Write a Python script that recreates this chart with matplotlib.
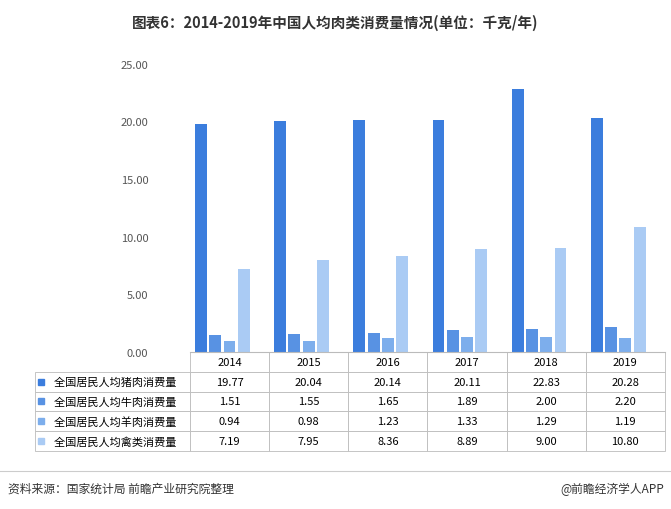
import matplotlib
matplotlib.use("Agg")
import matplotlib.pyplot as plt
import numpy as np

plt.rcParams['font.family'] = ['Noto Sans CJK SC', 'DejaVu Sans']

years = ['2014', '2015', '2016', '2017', '2018', '2019']
series = ['全国居民人均猪肉消费量', '全国居民人均牛肉消费量', '全国居民人均羊肉消费量', '全国居民人均禽类消费量']
pork = [19.77, 20.04, 20.14, 20.11, 22.83, 20.28]
beef = [1.51, 1.55, 1.65, 1.89, 2.00, 2.20]
mutton = [0.94, 0.98, 1.23, 1.33, 1.29, 1.19]
poultry = [7.19, 7.95, 8.36, 8.89, 9.00, 10.80]
colors = ['#3b7ddd', '#5892e3', '#7daeec', '#aacbf4']

fig = plt.figure(figsize=(6.71, 5.10), dpi=100)
ax = fig.add_axes([0.283, 0.308, 0.708, 0.565])
x = np.arange(len(years))
offs = [-0.36, -0.18, 0.0, 0.18]
w = 0.15
for vals, o, c in zip([pork, beef, mutton, poultry], offs, colors):
    ax.bar(x + o, vals, width=w, color=c)
ax.set_xlim(-0.5, 5.5)
ax.set_ylim(0, 25)
ax.set_yticks([0, 5, 10, 15, 20, 25])
ax.set_yticklabels([f'{v:.2f}' for v in [0, 5, 10, 15, 20, 25]], fontsize=8, color='#555555')
ax.set_xticks([])
for s in ['top', 'right', 'left']:
    ax.spines[s].set_visible(False)
ax.spines['bottom'].set_color('#bbbbbb')
ax.tick_params(axis='y', length=0, pad=30)

cell = [[''] + years]
for name, vals in zip(series, [pork, beef, mutton, poultry]):
    cell.append(['  ' + name] + [f'{v:.2f}' for v in vals])
left = -0.326
th = 0.344
tb = ax.table(cellText=cell, bbox=[left, -th, 1 - left, th], cellLoc='center')
tb.auto_set_font_size(False)
tb.set_fontsize(8)
lw = (0 - left) / (1 - left)
for (r, c), ce in tb.get_celld().items():
    ce.set_edgecolor('#bbbbbb')
    ce.set_linewidth(0.6)
    if c == 0:
        ce.set_width(lw)
        ce._loc = 'left'
    else:
        ce.set_width((1 - lw) / 6)
    if r == 0 and c == 0:
        ce.set_edgecolor('none')
for i, c in enumerate(colors):
    yy = -(i + 1.5) * th / 5
    ax.plot([left + 0.012], [yy], marker='s', color=c, markersize=5,
            transform=ax.transAxes, clip_on=False)

fig.text(0.5, 0.955, '图表6：2014-2019年中国人均肉类消费量情况(单位：千克/年)',
         ha='center', va='center', fontsize=10.5, fontweight='bold', color='#333333')
fig.text(0.012, 0.04, '资料来源：国家统计局 前瞻产业研究院整理', ha='left', va='center', fontsize=8.5, color='#333333')
fig.text(0.99, 0.04, '@前瞻经济学人APP', ha='right', va='center', fontsize=8.5, color='#333333')
fig.add_artist(plt.Line2D([0, 1], [0.075, 0.075], color='#cccccc', lw=0.8))
fig.savefig('out.png', dpi=100)
